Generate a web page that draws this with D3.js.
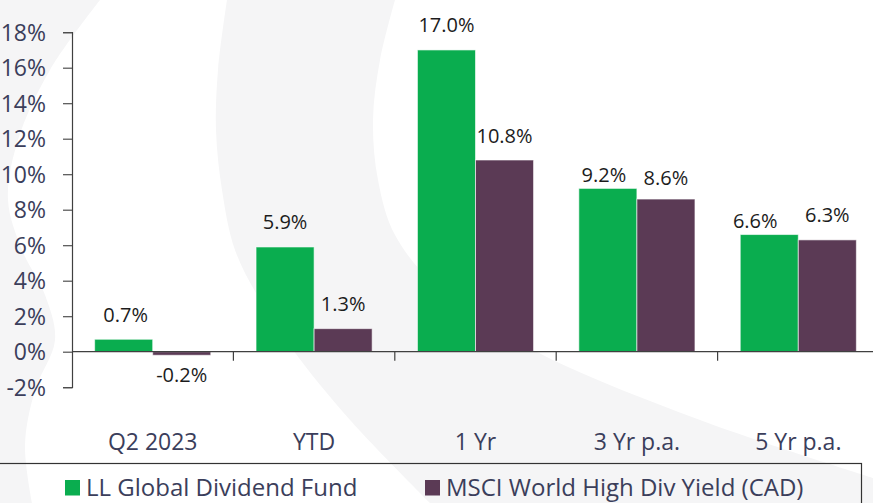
<!DOCTYPE html>
<html>
<head>
<meta charset="utf-8">
<script src="https://cdn.jsdelivr.net/npm/d3@7"></script>
<style>
  html, body { margin: 0; padding: 0; background: #fff; }
  svg { display: block; }
  text { font-family: "Open Sans", "Noto Sans", sans-serif; }
</style>
</head>
<body>
<svg id="chart" width="873" height="503"></svg>
<script>
// ---- data ----
const categories = ["Q2 2023", "YTD", "1 Yr", "3 Yr p.a.", "5 Yr p.a."];
const seriesNames = ["LL Global Dividend Fund", "MSCI World High Div Yield (CAD)"];
const fundValues = [0.7, 5.9, 17.0, 9.2, 6.6];
const indexValues = [-0.2, 1.3, 10.8, 8.6, 6.3];
const yTicks = [-2, 0, 2, 4, 6, 8, 10, 12, 14, 16, 18];

// ---- style ----
const colors = ["#0aad4f", "#5b3a55"];
const axisText = "#3b3e5b";
const W = 873, H = 503;
const margin = { left: 72, top: 32.2, bottom: 387.2 };
// manual label nudges [series][category] -> [dx, dy]
const nudges = [
  [[2, 0], [0, 0], [0, 0], [-4, 11], [-14, 11]],
  [[0, 0], [0, 0], [0, 0], [0, 3.5], [0, 0]]
];

const svg = d3.select("#chart");

// ---- watermark ----
const wm = svg.append("g");
wm.append("rect").attr("width", W).attr("height", H).attr("fill", "#f5f5f6");
const smooth = d3.line().curve(d3.curveCatmullRom.alpha(0.5));
// right white region
const rightWhite = [[395,0],[380,60],[373,120],[378,180],[395,235],[440,290],[533,350],[700,420],[873,478]];
wm.append("path")
  .attr("d", smooth(rightWhite) + `L${W},0Z`)
  .attr("fill", "#fff");
// middle white band
const bandLeft = [[227,0],[218,70],[216,130],[222,190],[235,250],[260,300],[293,350],[350,420],[430,503]];
const bandOuter = [[32,503],[25,445],[35,390],[55,340],[45,295],[22,250],[8,200],[18,140],[50,70],[100,0]];
wm.append("path")
  .attr("d", smooth(bandLeft) + "L" + smooth(bandOuter).slice(1) + "Z")
  .attr("fill", "#fff");

// ---- scales ----
const x0 = d3.scaleBand().domain(categories).range([margin.left, margin.left + 5 * 161.4]).padding(0);
const x1 = d3.scaleBand().domain([0, 1]).range([0, x0.bandwidth()]).paddingInner(0).paddingOuter(0.39);
const y = d3.scaleLinear().domain([-2, 18]).range([margin.bottom, margin.top]);

// ---- y axis ----
const yAxis = svg.append("g").attr("transform", `translate(${margin.left},0)`)
  .call(d3.axisLeft(y).tickValues(yTicks).tickSize(9).tickPadding(17).tickFormat(d => d + "%"));
yAxis.select(".domain").attr("stroke", "#404040").attr("stroke-width", 1.2);
yAxis.selectAll(".tick line").attr("stroke", "#505050").attr("stroke-width", 1.2);
yAxis.selectAll(".tick text").attr("fill", axisText).attr("font-size", 23)
  .attr("font-family", "'Open Sans', sans-serif").attr("dy", "0.34em");

// ---- bars ----
const series = [fundValues, indexValues];
series.forEach((vals, si) => {
  svg.append("g").selectAll("rect").data(vals).join("rect")
    .attr("x", (d, i) => x0(categories[i]) + x1(si))
    .attr("width", x1.bandwidth())
    .attr("y", d => y(Math.max(0, d)))
    .attr("height", d => Math.abs(y(d) - y(0)))
    .attr("fill", colors[si])
    .attr("stroke", "#ffffff").attr("stroke-opacity", 0.6).attr("stroke-width", 1);
});

// ---- x axis ----
const xAxisG = svg.append("g");
xAxisG.append("line").attr("x1", margin.left).attr("x2", W).attr("y1", y(0)).attr("y2", y(0))
  .attr("stroke", "#404040").attr("stroke-width", 1.2);
xAxisG.selectAll("line.tk").data(categories.slice(1)).join("line").attr("class", "tk")
  .attr("x1", d => x0(d)).attr("x2", d => x0(d))
  .attr("y1", y(0)).attr("y2", y(0) + 9)
  .attr("stroke", "#404040").attr("stroke-width", 1.2);
xAxisG.selectAll("text").data(categories).join("text")
  .attr("x", d => x0(d) + x0.bandwidth() / 2)
  .attr("y", 450)
  .attr("text-anchor", "middle")
  .attr("font-size", 23).attr("fill", axisText)
  .text(d => d);

// ---- value labels ----
series.forEach((vals, si) => {
  svg.append("g").selectAll("text").data(vals).join("text")
    .attr("x", (d, i) => x0(categories[i]) + x1(si) + x1.bandwidth() / 2 + nudges[si][i][0])
    .attr("y", (d, i) => (d >= 0 ? y(d) - 17.5 : y(d) + 26.5) + nudges[si][i][1])
    .attr("text-anchor", "middle")
    .attr("font-size", 20).attr("fill", "#1c1c1c")
    .text(d => d.toFixed(1) + "%");
});

// ---- legend ----
const lg = svg.append("g");
lg.append("rect").attr("x", -2).attr("y", 463.5).attr("width", 863.5).attr("height", 60)
  .attr("fill", "none").attr("stroke", "#333").attr("stroke-width", 1.2);
const legendX = [65, 425];
seriesNames.forEach((name, si) => {
  lg.append("rect").attr("x", legendX[si]).attr("y", 480).attr("width", 15).attr("height", 15.5)
    .attr("fill", colors[si]);
  lg.append("text").attr("x", legendX[si] + 21).attr("y", 496)
    .attr("font-size", 24).attr("fill", axisText).text(name);
});
</script>
</body>
</html>
